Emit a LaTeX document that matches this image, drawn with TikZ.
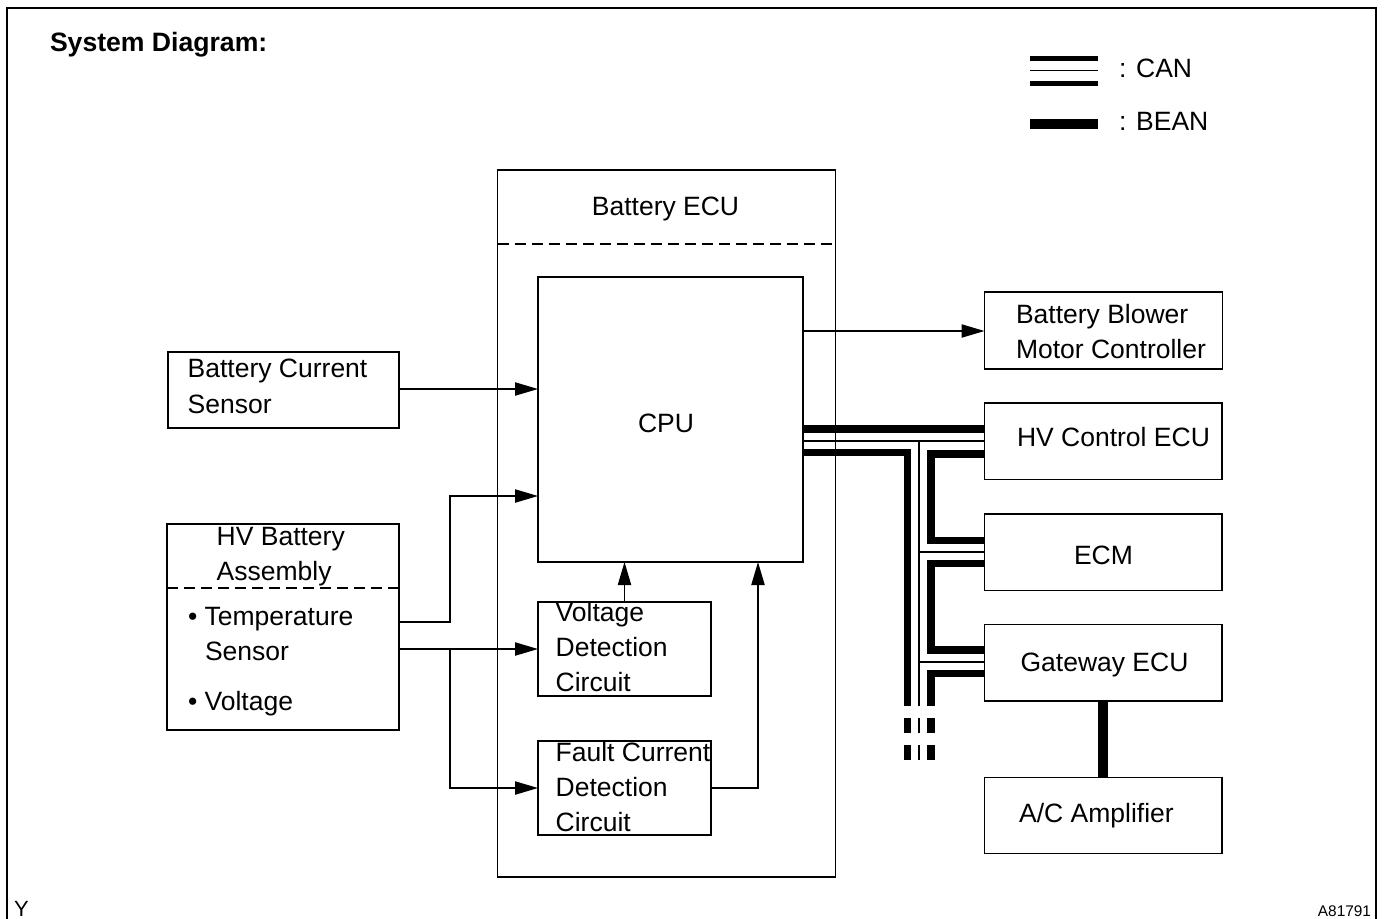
\documentclass[tikz,border=0pt]{standalone}
\usepackage{fontspec}
\setmainfont{Liberation Sans}
\usetikzlibrary{arrows.meta,calc}
\begin{document}
\begin{tikzpicture}[x=0.5pt,y=-0.5pt,
  every node/.style={inner sep=0pt,outer sep=0pt},
  txt/.style={font=\fontsize{13.25}{17.5}\selectfont},
  lt/.style={txt,anchor=base west},
  ct/.style={txt,anchor=base},
  boxst/.style={draw,line width=0.8pt},
  arr/.style={line width=0.75pt,-{Triangle[length=11.5pt,width=6.6pt]}},
  canthick/.style={line width=3.75pt,line join=miter,line cap=butt},
  canthin/.style={line width=0.75pt,line cap=butt},
  beanline/.style={line width=5pt,line cap=butt},
  sep/.style={line width=0.75pt,dash pattern=on 5.5pt off 3pt}]
\useasboundingbox (0,0) rectangle (1386,918);
% outer frame
\draw[line width=1pt] (7,930) -- (7,8) -- (1376,8) -- (1376,930);
% title and codes
\node[anchor=base west,font=\fontsize{13.3}{16}\selectfont\bfseries] (title) at (50,51) {System Diagram:};
\node[anchor=base west,font=\fontsize{11}{13}\selectfont] (ycode) at (14,916) {Y};
\node[anchor=base east,font=\fontsize{7.7}{9}\selectfont] (figcode) at (1371,916) {A81791};
% legend
\draw[line width=2.5pt] (1030,58.2) -- (1098,58.2);
\draw[line width=0.75pt] (1030,70.7) -- (1098,70.7);
\draw[line width=2.5pt] (1030,83) -- (1098,83);
\draw[line width=5pt] (1030,124) -- (1098,124);
\node[lt] (lgcan) at (1119,77) {: CAN};
\node[lt] (lgbean) at (1119,130) {: BEAN};
% boxes
\node[boxst,minimum width=115.5pt,minimum height=38pt] (bcs) at (283.5,390) {};
\node[boxst,minimum width=116pt,minimum height=103pt] (hv) at (283,627) {};
\node[boxst,minimum width=169pt,minimum height=353.5pt] (ecu) at (666.5,523.5) {};
\node[boxst,minimum width=132.5pt,minimum height=142.5pt] (cpu) at (670.5,419.5) {};
\node[boxst,minimum width=86.5pt,minimum height=47pt] (vdc) at (624.5,649) {};
\node[boxst,minimum width=86.5pt,minimum height=47pt] (fcdc) at (624.5,788) {};
\node[boxst,minimum width=119pt,minimum height=38.5pt] (bbmc) at (1103.5,330.5) {};
\node[boxst,minimum width=118.7pt,minimum height=38.3pt] (hvc) at (1103,441) {};
\node[boxst,minimum width=118.7pt,minimum height=38.3pt] (ecm) at (1103,552.3) {};
\node[boxst,minimum width=118.7pt,minimum height=38.3pt] (gw) at (1103,662.7) {};
\node[boxst,minimum width=118.7pt,minimum height=38pt] (ac) at (1103,815.3) {};
% separators
\draw[sep] (hv.west |- 0,588) -- (hv.east |- 0,588);
\draw[sep] (ecu.west |- 0,244) -- (ecu.east |- 0,244);
% texts
\node[lt] (tbcs1) at (187.7,377.3) {Battery Current};
\node[lt] (tbcs2) at (187.7,413.3) {Sensor};
\node[lt] (thv1) at (216.7,545) {HV Battery};
\node[lt] (thv2) at (216.7,580) {Assembly};
\node[lt] (thv3) at (188,625) {•\ Temperature};
\node[lt] (thv4) at (205,660) {Sensor};
\node[lt] (thv5) at (188,710) {•\ Voltage};
\node[ct] (tecu) at (665.5,215) {Battery ECU};
\node[ct] (tcpu) at (666,432.5) {CPU};
\node[lt] (tvdc1) at (555.7,621) {Voltage};
\node[lt] (tvdc2) at (555.7,656) {Detection};
\node[lt] (tvdc3) at (555.7,691.7) {Circuit};
\node[lt] (tfc1) at (555.7,761.7) {Fault Current};
\node[lt] (tfc2) at (555.7,796.7) {Detection};
\node[lt] (tfc3) at (555.7,831.7) {Circuit};
\node[lt] (tbb1) at (1016,323.3) {Battery Blower};
\node[lt] (tbb2) at (1016,358.3) {Motor Controller};
\node[ct] (thvc) at (1113.5,446.7) {HV Control ECU};
\node[ct] (tecm) at (1103.5,564) {ECM};
\node[ct] (tgw) at (1104.5,671.7) {Gateway ECU};
\node[ct] (tac) at (1096.5,822.3) {A/C Amplifier};
% signal arrows
\draw[arr] (bcs.east |- 0,389) -- (cpu.west |- 0,389);
\draw[arr] (hv.east |- 0,622) -- (450,622) -- (450,496) -- (cpu.west |- 0,496);
\draw[arr] (hv.east |- 0,649) -- (vdc.west);
\draw[arr] (450,649) -- (450,788) -- (fcdc.west);
\draw[arr] (vdc.north) -- (vdc.north |- cpu.south);
\draw[arr] (fcdc.east) -- (758,788) -- (758,0 |- cpu.south);
\draw[arr] (cpu.east |- 0,331) -- (bbmc.west |- 0,331);
% CAN bus
\coordinate (busend) at (919,706);
\draw[canthick] (cpu.east |- 0,429) -- (hvc.west |- 0,429);
\draw[canthin] (cpu.east |- 0,441) -- (hvc.west |- 0,441);
\draw[canthick] (cpu.east |- 0,452.5) -- (907.7,452.5) -- (907.7,0 |- busend);
\draw[canthin] (919,441) -- (busend);
\draw[canthick] (hvc.west |- 0,454) -- (931,454) -- (931,540.5) -- (ecm.west |- 0,540.5);
\draw[canthin] (919,552) -- (ecm.west |- 0,552);
\draw[canthick] (ecm.west |- 0,563.5) -- (931,563.5) -- (931,650) -- (gw.west |- 0,650);
\draw[canthin] (919,662) -- (gw.west |- 0,662);
\draw[canthick] (gw.west |- 0,673.5) -- (931,673.5) -- (931,0 |- busend);
% dashed continuation
\foreach \ya/\yb in {718/733,745/760}{
  \draw[canthick] (907.7,\ya) -- (907.7,\yb);
  \draw[canthin] (919,\ya) -- (919,\yb);
  \draw[canthick] (931,\ya) -- (931,\yb);
}
% BEAN
\draw[beanline] (gw.south) -- (ac.north);
\end{tikzpicture}
\end{document}
